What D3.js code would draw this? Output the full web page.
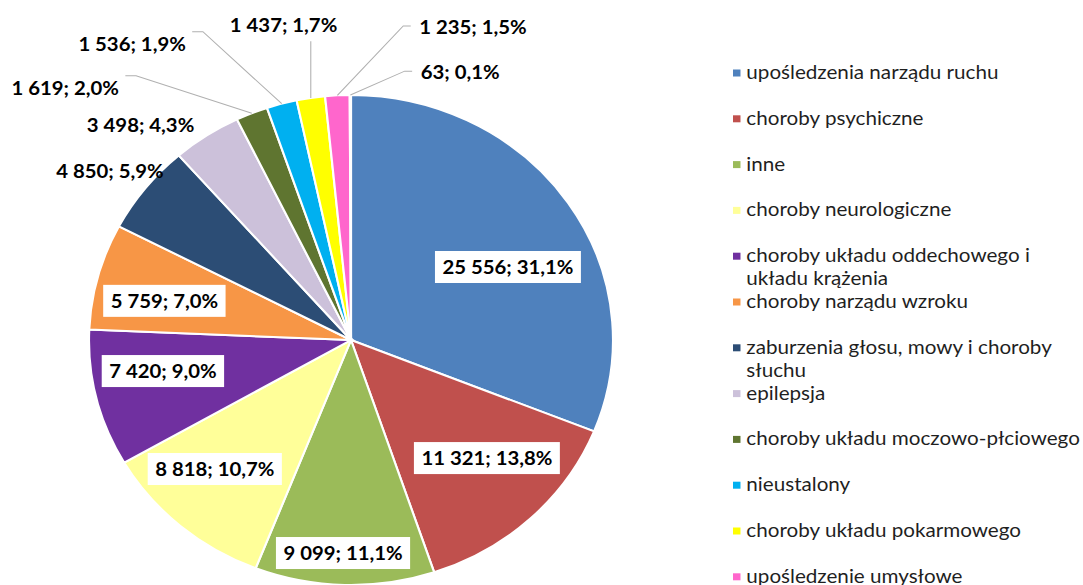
<!DOCTYPE html>
<html>
<head>
<meta charset="utf-8">
<script src="https://cdn.jsdelivr.net/npm/d3@7"></script>
<style>
  body { margin: 0; background: #fff; }
  svg { display: block; }
</style>
</head>
<body>
<svg id="chart" width="1083" height="585"></svg>
<script>
var categories = [
  'upośledzenia narządu ruchu',
  'choroby psychiczne',
  'inne',
  'choroby neurologiczne',
  'choroby układu oddechowego i układu krążenia',
  'choroby narządu wzroku',
  'zaburzenia głosu, mowy i choroby słuchu',
  'epilepsja',
  'choroby układu moczowo-płciowego',
  'nieustalony',
  'choroby układu pokarmowego',
  'upośledzenie umysłowe',
  'całościowe zaburzenia rozwojowe'
];

var values = [25556, 11321, 9099, 8818, 7420, 5759, 4850, 3498, 1619, 1536, 1437, 1235, 63];

var colors = ['#4f81bd', '#c0504d', '#9bbb59', '#ffff99', '#7030a0', '#f79646',
  '#2c4d75', '#ccc1da', '#5f7530', '#00b0f0', '#ffff00', '#ff66cc', '#a5a5a5'];

// label placement: shift from slice mid-angle (deg) and distance as part of radius
var labelLayout = [
  {da: 7.6, r: 0.669},
  {da: -3.8, r: 0.708},
  {da: 0.6, r: 0.87},
  {da: 4, r: 0.74},
  {da: 3.8, r: 0.729},
  {da: -2.4, r: 0.73},
  {da: -1.4, r: 1.15},
  {da: -9.0, r: 1.19},
  {da: -24.4, r: 1.50, line: true, attach: 'top'},
  {da: -19.3, r: 1.47, line: true, attach: 'top'},
  {da: -2.5, r: 1.31, line: true},
  {da: 23.0, r: 1.36, line: true, attach: 'mid'},
  {da: 21.0, r: 1.17, line: true, attach: 'mid'}
];

// the original picture is a bit stretched sideways
var sx = 262 / 245;
var radius = 245;
var cx = 351 / sx, cy = 340;

var pl = d3.formatLocale({decimal: ',', thousands: ' ', grouping: [3], currency: ['', '']});
var fmtNum = pl.format(',d');
var fmtPct = pl.format('.1f');
var total = d3.sum(values);

var data = categories.map(function(c, i) {
  return {name: c, value: values[i], color: colors[i]};
});

var pie = d3.pie().sort(null).value(function(d) { return d.value; });
var arcs = pie(data);
var arc = d3.arc().innerRadius(0).outerRadius(radius);

var svg = d3.select('#chart');
var g = svg.append('g').attr('transform', 'scale(' + sx + ',1)');
var gPie = g.append('g').attr('transform', 'translate(' + cx + ',' + cy + ')');

gPie.selectAll('path.slice')
  .data(arcs)
  .join('path')
  .attr('class', 'slice')
  .attr('d', arc)
  .attr('fill', function(d) { return d.data.color; })
  .attr('stroke', '#fff')
  .attr('stroke-width', 2);

var gLines = gPie.append('g');
var gLabels = gPie.append('g');

var padX = 7, boxH = 32;

arcs.forEach(function(d, i) {
  var lay = labelLayout[i];
  var mid = (d.startAngle + d.endAngle) / 2;
  var a = mid + lay.da * Math.PI / 180;
  var x = Math.sin(a) * radius * lay.r;
  var y = -Math.cos(a) * radius * lay.r;

  var lg = gLabels.append('g').attr('transform', 'translate(' + x + ',' + y + ')');
  var rect = lg.append('rect').attr('fill', '#fff');
  var t = lg.append('text')
    .text(fmtNum(d.data.value) + '; ' + fmtPct(d.data.value / total * 100) + '%')
    .attr('text-anchor', 'middle')
    .attr('dy', '0.36em')
    .attr('font-family', 'Lato, "Open Sans", sans-serif')
    .attr('font-weight', 'bold')
    .attr('font-size', 19)
    .attr('fill', '#000');
  var bb = t.node().getBBox();
  // only the labels sitting on the slices get a white box
  if (lay.r < 1) {
    rect.attr('x', bb.x - padX)
      .attr('y', -boxH / 2)
      .attr('width', bb.width + padX * 2)
      .attr('height', boxH);
  }

  if (lay.line) {
    var px = Math.sin(mid) * radius;
    var py = -Math.cos(mid) * radius;
    var x0 = x + bb.x - padX, x1 = x + bb.x + bb.width + padX;
    var pts;
    if (px >= x0 && px <= x1) {
      pts = [[px, py], [px, y + boxH / 2]];
    } else {
      var ay = lay.attach == 'top' ? y - 12 : y - 1;
      if (px > x1) pts = [[px, py], [x1 + 9, ay], [x1 - 1, ay]];
      else pts = [[px, py], [x0 - 8, ay], [x0 - 1, ay]];
    }
    gLines.append('path')
      .attr('d', d3.line()(pts))
      .attr('fill', 'none')
      .attr('stroke', '#b0b0b0')
      .attr('stroke-width', 1);
  }
});

// legend
var legX = 733 / sx, legY = 79, legStep = 45.8, lineH = 23;
var legFont = 19.3;
var gLeg = g.append('g');

var probe = gLeg.append('text')
  .attr('font-family', 'Lato, "Open Sans", sans-serif')
  .attr('font-size', legFont)
  .text('choroby układu moczowo-płciowego');
var maxW = probe.node().getComputedTextLength() + 2;
probe.remove();

data.forEach(function(d, i) {
  var by = legY + i * legStep;
  gLeg.append('rect')
    .attr('x', legX)
    .attr('y', by - 9.5)
    .attr('width', 7)
    .attr('height', 7)
    .attr('fill', d.color);

  var t = gLeg.append('text')
    .attr('x', legX + 12.5)
    .attr('y', by)
    .attr('font-family', 'Lato, "Open Sans", sans-serif')
    .attr('font-size', legFont)
    .attr('fill', '#1f1f1f');

  var words = d.name.split(' ');
  var line = [];
  var ts = t.append('tspan').attr('x', legX + 12.5).attr('dy', 0);
  words.forEach(function(w) {
    line.push(w);
    ts.text(line.join(' '));
    if (ts.node().getComputedTextLength() > maxW && line.length > 1) {
      line.pop();
      ts.text(line.join(' '));
      line = [w];
      ts = t.append('tspan').attr('x', legX + 12.5).attr('dy', lineH).text(w);
    }
  });
});
</script>
</body>
</html>
